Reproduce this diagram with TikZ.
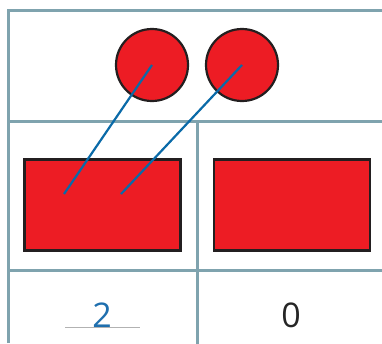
\documentclass[tikz,border=0pt]{standalone}
\usepackage{fontspec}
\usepackage{xcolor}
\usepackage{tikz}
\usetikzlibrary{positioning,calc}
\newfontfamily\digitfont{Open Sans}
\definecolor{gridline}{HTML}{7FA3AE}
\definecolor{counter}{HTML}{ED1C24}
\definecolor{outline}{HTML}{231F20}
\definecolor{linkblue}{HTML}{0A6AA8}
\definecolor{answer}{HTML}{1F6FAE}

\begin{document}
\begin{tikzpicture}[x=1pt, y=-1pt]
    \useasboundingbox (0,0) rectangle (382,343);
    % Table
    \draw[gridline, line width=3pt] (8,343) -- (8,10) -- (390,10);
    \draw[gridline, line width=3pt] (8,121) -- (390,121);
    \draw[gridline, line width=3pt] (8,270) -- (390,270);
    \draw[gridline, line width=3pt] (197,121) -- (197,350);
    
    % Counters
    \node[circle, draw=outline, fill=counter, line width=2.2pt, minimum size=72pt, inner sep=0pt] (dotA) at (152,65) {};
    \node[circle, draw=outline, fill=counter, line width=2.2pt, minimum size=72pt, inner sep=0pt] (dotB) at (242,65) {};
    
    % Bars
    \node[rectangle, draw=outline, fill=counter, line width=2.2pt, minimum width=156pt, minimum height=91pt, inner sep=0pt] (barA) at (102.5,205) {};
    \node[rectangle, draw=outline, fill=counter, line width=2.2pt, minimum width=156pt, minimum height=91pt, inner sep=0pt] (barB) at (292,205) {};
    
    % Links
    \coordinate (endA) at (64,194);
    \coordinate (endB) at (121,194);
    \draw[linkblue, line width=2.2pt] (dotA.center) -- (endA);
    \draw[linkblue, line width=2.2pt] (dotB.center) -- (endB);
    
    % Answers
    \node[font=\digitfont\fontsize{34}{34}\selectfont, text=answer, anchor=base] (ansA) at (102,327) {2};
    \node[font=\digitfont\fontsize{34}{34}\selectfont, text=black!85, anchor=base] (ansB) at (291,327) {0};
    \draw[black!30, line width=0.8pt] (65,327.5) -- (140,327.5);
\end{tikzpicture}
\end{document}
